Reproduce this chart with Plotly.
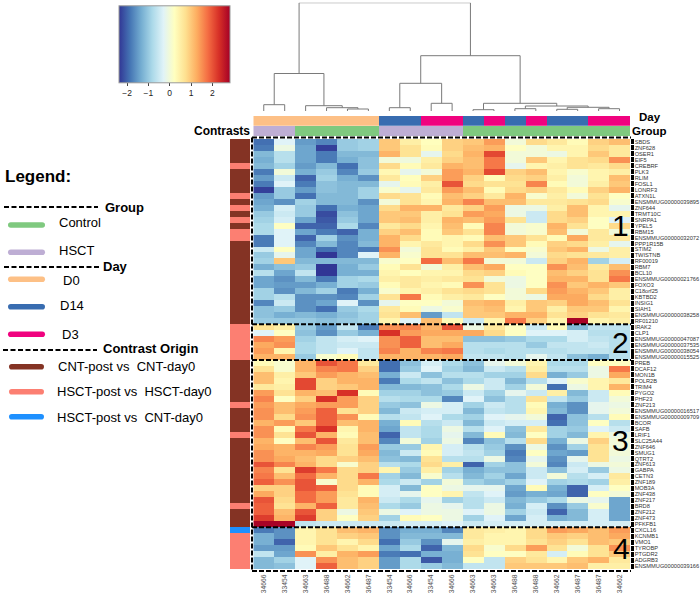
import plotly.graph_objects as go

W, H = 700, 595
FONT = "Liberation Sans"

column_labels = ["34666","33454","34663","36488","34662","36487","33454","34666","33454",
                 "34666","34663","34663","36488","36488","34662","36487","36487","34662"]

cluster1_genes = ["SBDS","ZNF628","OSER1","EIF5","CREBRF","PLK3","RLIM","FOSL1","LONRF3","ATXN1L",
    "ENSMMUG00000039895","ZNF644","TRMT10C","SNRPA1","YPEL5","RBM15","ENSMMUG00000032072","PPP1R15B",
    "STIM2","TWISTNB","RF00019","RBM7","BCL10","ENSMMUG00000021766","FOXO3","C18orf25","KBTBD2",
    "INSIG1","SIAH1","ENSMMUG00000038258","RF01210"]
cluster2_genes = ["IRAK2","CLP1","ENSMMUG00000047087","ENSMMUG00000037535","ENSMMUG00000038054","ENSMMUG00000015525"]
cluster3_genes = ["PREB","DCAF12","MON1B","POLR2B","TRIM4","PYGO2","PHF23","ZNF213","ENSMMUG00000016517",
    "ENSMMUG00000009709","BCOR","SAFB","LRIF1","SLC25A44","ZNF646","SMUG1","QTRT2","ZNF613","GABPA",
    "CETN3","ZNF189","MOB3A","ZNF438","ZNF217","BRD8","ZNF212","ZNF473","PFKFB1"]
cluster4_genes = ["CXCL16","KCNMB1","VMO1","TYROBP","PTGDR2","ADGRB3","ENSMMUG00000039166"]

cluster1_values = [
 [-1.9,-0.3,-1.5,-1.7,-1.0,-0.9,1.0,0.5,0.25,0.9,1.0,1.4,0.0,0.8,0.6,0.3,0.9,1.1],
 [-1.8,-0.1,-1.4,-2.3,-1.0,-0.9,1.0,0.7,0.3,0.9,1.1,1.2,0.2,0.0,0.4,0.4,0.8,0.6],
 [-1.2,-0.7,-1.4,-1.8,-1.2,-1.2,1.2,0.7,-0.2,0.8,1.2,2.1,0.0,0.0,-0.1,0.4,1.0,0.6],
 [-1.3,-0.7,-1.4,-1.8,-1.3,-1.1,0.0,-0.05,0.5,0.9,1.1,1.7,0.0,1.0,0.4,0.7,0.8,1.5],
 [-1.2,-0.9,-1.5,-1.2,-1.9,-1.1,0.8,0.3,0.6,1.2,1.1,1.7,-0.2,0.4,0.5,0.7,0.6,0.8],
 [-1.8,0.0,-1.3,-1.0,-1.7,-1.0,0.35,-0.2,0.0,1.4,1.2,2.1,0.9,1.1,0.4,0.1,0.4,0.5],
 [-1.5,-0.5,-2.0,-0.9,-1.3,-1.6,0.6,0.25,0.9,1.4,0.9,0.3,0.8,0.9,0.5,0.0,0.4,1.1],
 [-1.8,-0.3,-1.8,-1.1,-1.2,-1.2,-0.2,0.3,0.5,2.0,0.8,0.7,0.7,1.6,0.3,0.0,0.5,1.0],
 [-2.3,-1.0,-1.5,-1.1,-1.2,-0.9,0.1,-0.2,0.6,1.4,1.1,0.3,0.8,0.9,0.6,0.3,0.9,1.2],
 [-1.5,-1.0,-1.9,-1.2,-1.2,-0.9,0.8,0.7,0.3,1.1,0.9,0.6,1.2,0.1,0.5,0.0,0.7,0.2],
 [-1.4,-1.6,-0.9,-1.2,-1.2,-1.6,0.0,0.7,0.4,1.2,1.6,1.1,1.1,0.6,0.6,0.7,0.8,0.1],
 [-1.3,-0.4,-1.0,-1.9,-1.3,-1.4,0.8,1.2,1.2,0.6,0.9,1.4,-0.1,-0.1,0.5,1.1,0.4,-0.2],
 [-1.0,-0.5,-1.0,-2.2,-1.1,-1.4,1.0,1.0,0.5,0.7,1.4,1.3,-0.1,-0.5,0.8,1.1,0.4,0.4],
 [-0.9,-0.4,-1.4,-2.1,-1.0,-1.4,1.0,1.1,0.5,1.2,1.1,1.4,0.7,-0.5,0.8,0.9,0.2,-0.3],
 [-0.8,0.2,-2.0,-2.0,-0.8,-1.7,0.6,0.8,0.4,1.1,0.3,1.6,0.0,0.1,1.2,0.7,0.2,0.8],
 [-0.8,-0.3,-1.4,-1.8,-2.0,-1.3,0.9,1.1,0.3,1.0,0.7,1.6,0.0,0.1,1.1,0.0,0.6,0.0],
 [-1.8,-0.3,-2.0,-0.9,-1.6,-1.3,1.2,0.8,0.3,0.4,0.3,1.1,1.0,0.7,0.3,1.3,0.6,0.6],
 [-1.8,-0.3,-1.7,-1.2,-1.7,-1.2,1.2,0.4,0.6,0.4,0.8,1.5,1.0,0.3,0.9,0.8,0.5,-0.2],
 [-0.5,0.2,-1.4,-1.9,-1.7,-1.8,1.5,0.0,0.7,0.3,0.5,1.0,0.2,0.1,1.0,1.2,-0.1,0.5],
 [-1.0,-0.2,-1.4,-2.4,-1.7,-0.3,1.2,0.1,0.7,0.7,1.1,1.1,1.2,0.0,0.8,0.7,0.6,0.5],
 [-0.9,1.0,-1.2,-1.2,-1.2,-1.2,0.1,0.2,1.8,1.1,1.7,0.0,0.0,-0.5,0.9,1.2,-0.9,-0.4],
 [-1.3,-1.1,-1.0,-2.4,-1.3,-1.0,0.3,0.7,0.0,0.5,1.1,1.3,0.2,0.2,1.5,1.1,0.6,1.1],
 [-0.7,-1.4,-0.6,-2.4,-1.3,-1.3,0.4,0.25,0.4,0.4,0.8,0.9,0.3,0.2,1.1,0.9,0.7,1.5],
 [-1.4,-1.6,-1.2,-1.8,-0.9,-0.8,0.5,0.6,0.5,0.6,0.7,0.0,-0.1,0.2,1.2,1.2,0.7,1.7],
 [-1.4,-1.5,-1.5,-1.3,-0.9,-1.0,0.3,0.6,0.4,0.3,1.5,0.7,-0.1,0.2,1.5,1.0,1.2,1.0],
 [-0.9,-1.6,-1.2,-0.9,-1.8,-1.3,0.1,0.4,0.5,0.7,0.8,0.7,0.0,0.8,1.4,1.2,1.0,0.5],
 [-0.9,-0.7,-1.6,-1.6,-1.7,-0.9,0.7,1.7,0.3,0.5,0.6,0.2,0.0,-0.1,1.3,1.3,0.8,0.5],
 [-1.7,-0.5,-1.6,-1.4,-0.3,-1.6,-0.2,0.2,0.2,0.0,1.1,1.2,0.5,1.0,0.9,1.3,1.1,0.7],
 [-1.1,-1.0,-1.6,-1.9,-1.0,-0.8,0.6,0.3,-0.1,0.1,1.0,1.1,0.4,1.0,0.5,1.0,1.0,0.4],
 [-1.1,-1.3,-1.2,-1.3,-1.1,-0.9,0.7,1.1,-1.5,-0.6,1.0,1.0,1.2,1.2,0.7,0.9,0.7,0.6],
 [-1.0,-1.0,-1.0,-1.1,-1.0,-0.9,0.4,-0.3,1.1,0.3,-0.5,0.4,1.7,0.9,0.4,2.8,0.4,0.5],
]
cluster2_values = [
 [0.7,0.5,-1.0,-1.5,-0.6,-1.8,1.5,1.6,1.2,2.0,-0.1,0.6,0.2,-0.5,0.3,-1.2,-0.6,-0.6],
 [-0.3,0.2,-1.1,-1.6,-1.0,-1.3,2.3,1.4,1.3,1.3,1.3,0.8,0.2,-0.3,-0.3,-0.4,-0.7,-0.7],
 [1.6,1.4,-0.9,-0.6,-0.4,-0.3,1.5,1.9,1.1,1.1,-1.1,-1.1,-1.0,-0.8,-0.8,-0.4,-0.6,-0.7],
 [1.3,1.5,-0.8,-0.6,-0.5,-0.5,1.5,1.9,1.1,1.3,-0.7,-0.7,-0.7,-1.0,-0.6,-0.6,-0.5,-0.7],
 [1.4,0.4,-0.8,-0.6,-0.3,-0.6,1.6,1.2,1.6,1.7,-0.7,-0.8,-0.7,-0.7,-0.7,-0.6,-0.6,-0.7],
 [1.2,1.2,-1.0,0.1,0.3,-0.6,1.2,1.2,1.2,1.3,-0.6,-0.6,-0.7,-0.2,-0.6,-1.1,-1.3,-0.7],
]
cluster3_values = [
 [0.3,0.1,1.2,2.0,1.7,0.6,-1.9,-1.1,-0.4,-0.8,-1.1,-0.2,0.0,0.4,-0.8,-0.8,0.2,0.2],
 [0.7,0.1,1.2,1.6,1.7,0.9,-1.9,-1.0,-0.3,-0.9,-1.2,-0.5,-0.7,0.5,-0.7,-0.7,-0.1,1.7],
 [1.1,0.5,1.0,1.4,1.2,1.1,-1.3,-0.5,-1.1,-0.7,-0.7,-0.9,-0.9,0.8,-1.3,-1.0,-0.1,1.3],
 [1.1,0.4,2.1,0.9,1.2,1.2,-1.8,-0.8,-0.6,-1.1,-0.8,-0.5,-1.2,-0.7,-0.3,0.1,0.4,0.6],
 [0.6,0.5,2.1,0.9,1.0,1.2,-1.2,-1.2,-1.1,-0.8,-0.1,-0.5,-0.9,0.0,-1.9,-0.1,0.4,1.2],
 [1.4,0.7,1.2,1.1,2.3,0.3,-0.9,-0.9,-1.1,-1.0,-0.5,-0.9,-0.2,-0.5,0.5,-1.2,-0.5,0.3],
 [1.6,0.2,0.9,2.3,1.4,0.9,-0.7,-0.8,-0.8,-1.7,-0.3,-1.1,-0.7,0.7,-0.6,-1.0,-0.5,0.0],
 [1.4,1.1,1.3,1.4,1.4,0.9,-1.0,-1.1,-0.1,-0.4,-0.9,-0.5,-0.7,0.3,-1.3,-1.6,-0.2,-0.1],
 [1.5,1.1,1.4,1.9,0.7,0.9,-1.2,-0.5,-0.4,-0.4,-1.2,-0.6,-0.7,0.4,-1.2,-1.6,-0.2,0.0],
 [1.5,0.8,1.5,1.9,1.5,0.3,-0.7,-0.6,-0.3,-0.8,-0.9,-0.3,-0.2,0.0,-2.0,-1.1,-0.7,0.3],
 [1.2,1.4,1.0,1.9,1.1,1.2,-1.3,0.3,-0.7,-0.5,-1.2,-0.5,-0.4,-0.4,-1.9,-1.1,0.2,-0.7],
 [1.5,0.3,1.7,2.3,0.4,1.2,-1.4,-0.6,-0.8,-0.1,-0.7,-0.3,-1.1,0.6,-0.9,-1.0,-0.3,-0.5],
 [1.5,0.7,2.0,1.2,0.3,1.1,-2.0,-0.6,-0.8,-0.2,-1.2,0.3,-1.2,0.2,-0.9,-1.2,0.4,-0.1],
 [1.2,0.2,1.1,2.0,0.6,1.1,-1.7,0.0,-0.9,-0.1,-1.7,-1.1,-0.7,0.8,-1.3,-0.1,0.9,0.0],
 [1.3,1.2,1.6,1.4,0.7,1.4,-1.0,-1.0,0.4,-0.4,-0.7,-1.0,-1.6,-0.1,-1.6,-0.9,0.7,0.0],
 [1.5,1.2,1.2,1.3,0.7,1.3,-1.2,-0.5,0.3,-0.4,-0.6,-0.9,-1.8,0.2,-1.4,-1.5,0.7,0.0],
 [1.5,1.3,1.1,0.8,0.9,1.1,-1.1,-1.2,0.7,-0.7,-0.7,-0.1,-1.7,-0.2,-1.6,-0.2,0.7,-0.1],
 [2.0,1.6,1.2,0.8,0.1,0.9,-0.7,-0.8,0.8,0.5,-2.0,-0.9,-1.1,0.0,-1.7,-0.5,-0.1,0.0],
 [1.6,0.7,2.2,1.7,0.8,0.9,0.4,-1.0,0.5,-0.9,-1.3,-1.1,-1.1,-0.5,-1.1,-0.4,-1.0,-0.1],
 [1.7,1.1,1.8,1.2,0.8,1.7,-0.9,-1.2,0.1,-0.7,-1.2,-0.9,-1.4,-0.5,0.0,-0.7,-0.4,0.6],
 [1.9,1.5,2.0,0.1,0.8,1.2,-0.8,-0.5,-0.9,0.0,-0.9,-1.1,-0.9,-0.3,-0.9,-0.8,-0.9,0.5],
 [0.9,0.9,2.0,1.9,0.8,0.3,-0.4,-1.2,0.2,-0.1,-0.2,-0.2,-1.4,0.3,-1.3,-2.0,-0.4,0.2],
 [1.3,0.9,1.8,1.4,0.7,0.3,-0.4,-0.2,0.2,0.4,-0.6,-0.3,-1.5,-1.3,-1.4,-2.0,0.2,0.0],
 [2.0,0.8,1.8,1.4,0.6,1.2,-0.5,-0.8,-0.2,-0.9,-0.7,-0.5,-1.2,-1.0,-0.8,-0.1,-0.2,-1.4],
 [1.9,0.7,1.2,1.9,0.6,1.1,-0.8,-1.0,-0.1,-0.2,-0.7,-0.1,-1.3,-0.4,-1.6,-1.0,0.1,-1.4],
 [1.9,1.1,2.0,0.9,-0.1,1.0,-0.1,-0.3,-0.1,-0.1,-0.3,-0.1,-0.9,-0.5,-2.0,-1.2,-0.4,-1.4],
 [2.2,1.2,2.2,0.9,0.2,0.9,-0.9,0.3,0.2,-0.1,-0.9,-0.3,-1.4,-0.4,-1.3,-1.2,-0.4,-1.4],
 [2.8,2.8,-0.6,-0.5,-0.5,-0.5,-0.5,-0.4,-0.4,-0.3,-0.5,-0.4,-0.4,-0.4,-0.4,-0.4,-0.4,-0.4],
]
cluster4_values = [
 [-1.8,-1.6,0.4,0.7,1.1,1.2,-1.6,-1.3,-1.3,-1.7,0.6,0.5,0.4,0.8,1.4,1.3,1.1,1.4],
 [-1.3,-1.6,0.4,0.7,0.9,1.0,-1.6,-1.2,-1.2,-1.2,0.6,0.4,0.4,0.8,1.0,0.9,1.1,1.3],
 [-1.3,-2.0,0.4,0.7,0.4,0.8,-1.9,-1.0,-1.6,-0.2,0.5,0.4,0.4,0.7,0.9,0.7,1.1,1.0],
 [-1.5,-1.5,0.3,1.0,0.7,0.4,-1.4,-0.8,-2.0,-1.2,0.8,0.1,0.8,1.4,0.7,0.0,0.7,1.5],
 [-0.6,-1.4,1.5,0.5,1.2,1.4,-1.8,-1.9,-1.3,-1.3,0.7,0.2,0.2,0.6,-0.4,0.3,0.7,1.0],
 [-1.2,-0.9,-0.3,1.5,1.1,0.9,-1.5,-0.8,-2.1,-1.3,0.2,-0.6,0.9,0.7,0.4,1.0,1.2,0.6],
 [-1.2,-1.1,-0.3,1.9,1.1,0.9,-1.5,-0.8,-1.0,-1.2,-0.6,-0.6,1.0,1.0,1.0,1.1,0.5,0.5],
]

day_codes = [0,0,0,0,0,0,1,1,2,2,1,2,1,2,1,1,2,2]        # 0 D0, 1 D14, 2 D3
group_codes = [1,1,0,0,0,0,1,1,1,1,0,0,0,0,0,0,0,0]      # 0 Control, 1 HSCT
contrast_codes = [0,0,0,0,1,0,0,0,0,1,0,1,0,1,0,1,1,0,0,0,0,0,0,0,0,0,0,0,0,0,0,
                  1,1,1,1,1,1,
                  0,0,0,0,0,0,0,1,0,0,0,0,1,0,0,0,0,0,0,0,0,0,0,0,1,0,0,0,2,
                  1,1,1,1,1,1,1]
# merges: leaves are "Ln", earlier merges "Mn"; heights
merges = [("L0","L1",6.3),("L4","L5",2.0),("L3","M1",3.3),("L2","M2",5.3),("M0","M3",37.5),
          ("L6","L7",3.3),("L8","L9",7.7),("M5","M6",27.7),("L10","L11",1.3),("L12","L13",2.3),
          ("L14","L15",1.7),("L16","L17",2.3),("M10","M11",3.7),("M9","M12",5.0),("M8","M13",7.7),
          ("M7","M14",55.3),("M4","M15",108.3)]

COLORS_RDYLBU = ["#313695","#4575b4","#74add1","#abd9e9","#e0f3f8","#ffffbf","#fee090","#fdae61","#f46d43","#d73027","#a50026"]
ZMIN, ZMAX = -2.38, 2.83
DAY_COLORS = ["#fdc086","#386cb0","#f0027f"]
GROUP_COLORS = ["#7fc97f","#beaed4"]
CONTRAST_COLORS = ["#843324","#fc7f72","#1e90ff"]

genes = cluster1_genes + cluster2_genes + cluster3_genes + cluster4_genes
matrix = cluster1_values + cluster2_values + cluster3_values + cluster4_values
n_rows, n_cols = len(genes), len(column_labels)

def fx(p): return p / W
def fy(p): return 1 - p / H

HX0, HX1, HY0, HY1 = 253.3, 630.0, 139.0, 569.0

def discrete(colors):
    n = len(colors)
    out = []
    for i, c in enumerate(colors):
        out += [[i / n, c], [(i + 1) / n, c]]
    return out

fig = go.Figure()
fig.add_trace(go.Heatmap(z=matrix, x=list(range(n_cols)), y=list(range(n_rows)), xaxis="x", yaxis="y",
    colorscale=[[i / 10, c] for i, c in enumerate(COLORS_RDYLBU)], zmin=ZMIN, zmax=ZMAX, hoverinfo="skip",
    colorbar=dict(orientation="h", thickness=77, thicknessmode="pixels", len=111, lenmode="pixels",
                  x=fx(119), xanchor="left", y=fy(99), yanchor="bottom", xpad=0, ypad=0,
                  tickvals=[-2, -1, 0, 1, 2], ticks="outside", ticklen=3, tickwidth=1, tickcolor="#444",
                  tickfont=dict(family=FONT, size=8.5, color="#222"), outlinecolor="#999", outlinewidth=1)))
fig.add_trace(go.Heatmap(z=[day_codes], x=list(range(n_cols)), xaxis="x2", yaxis="y2", zmin=-0.5, zmax=2.5,
    colorscale=discrete(DAY_COLORS), showscale=False, hoverinfo="skip"))
fig.add_trace(go.Heatmap(z=[group_codes], x=list(range(n_cols)), xaxis="x3", yaxis="y3", zmin=-0.5, zmax=1.5,
    colorscale=discrete(GROUP_COLORS), showscale=False, hoverinfo="skip"))
fig.add_trace(go.Heatmap(z=[[c] for c in contrast_codes], y=list(range(n_rows)), xaxis="x4", yaxis="y4", zmin=-0.5, zmax=2.5,
    colorscale=discrete(CONTRAST_COLORS), showscale=False, hoverinfo="skip"))

# dendrogram from merges
pos = {f"L{i}": (float(i), 0.0) for i in range(n_cols)}
dx, dy = [], []
for k, (a, b, h) in enumerate(merges):
    xa, ha = pos[a]
    xb, hb = pos[b]
    dx += [xa, xa, xb, xb, None]
    dy += [ha, h, h, hb, None]
    pos[f"M{k}"] = ((xa + xb) / 2, h)
fig.add_trace(go.Scatter(x=dx, y=dy, mode="lines", xaxis="x5", yaxis="y5",
    line=dict(color="#7a7a7a", width=1), hoverinfo="skip", showlegend=False))

hidden = dict(visible=False, fixedrange=True)
xrange_cols = [-0.5, n_cols - 0.5]
dom_x = [fx(HX0), fx(HX1)]
shapes, annos = [], []

# cluster boxes (dashed) in data coordinates of the heatmap
for b in [30.5, 36.5, 64.5]:
    shapes.append(dict(type="line", xref="paper", yref="y", x0=fx(252), x1=fx(631), y0=b, y1=b,
                       line=dict(color="black", width=2, dash="5px,2px")))
for yp in [137.5, 571]:
    shapes.append(dict(type="line", xref="paper", yref="paper", x0=fx(252), x1=fx(631), y0=fy(yp), y1=fy(yp),
                       line=dict(color="black", width=2, dash="5px,2px")))
shapes.append(dict(type="line", xref="paper", yref="paper", x0=fx(252), x1=fx(252), y0=fy(137.5), y1=fy(571),
                   line=dict(color="black", width=2, dash="5px,2px")))

def text(x, y, s, size=13, bold=False, anchor="left", color="black"):
    annos.append(dict(x=fx(x), y=fy(y), xref="paper", yref="paper", text=f"<b>{s}</b>" if bold else s,
                      showarrow=False, xanchor=anchor, yanchor="middle", xshift=0, yshift=0, borderpad=0,
                      font=dict(family=FONT, size=size, color=color)))

def dashed(x0, x1, y):
    shapes.append(dict(type="line", xref="paper", yref="paper", x0=fx(x0), x1=fx(x1), y0=fy(y), y1=fy(y),
                       line=dict(color="black", width=2, dash="5px,2.5px")))

def pill(x0, x1, y, color, hh=2.8):
    yt, yb = fy(y - hh), fy(y + hh)
    ym = fy(y)
    a, b = fx(x0), fx(x1)
    r = fx(hh)
    path = (f"M {a+r},{yt} L {b-r},{yt} Q {b},{yt} {b},{ym} Q {b},{yb} {b-r},{yb} "
            f"L {a+r},{yb} Q {a},{yb} {a},{ym} Q {a},{yt} {a+r},{yt} Z")
    shapes.append(dict(type="path", xref="paper", yref="paper", path=path, fillcolor=color, line=dict(width=0)))

text(4, 176.7, "Legend:", 17, True)
dashed(4, 98, 207); text(103.5, 207, "Group", 13, True)
pill(8, 45, 225, GROUP_COLORS[0]); text(58, 222.7, "Control")
pill(8, 45, 252.3, GROUP_COLORS[1]); text(58, 250.3, "HSCT")
dashed(4, 100, 267); text(102, 266, "Day", 13, True)
pill(8, 45, 279.3, DAY_COLORS[0]); text(61.5, 280, "D0")
pill(8, 45, 306.7, DAY_COLORS[1]); text(59, 306, "D14")
pill(8, 45, 334.3, DAY_COLORS[2]); text(60.5, 334, "D3")
dashed(3, 97, 350); text(102, 348, "Contrast Origin", 13, True)
pill(9, 44, 366.7, CONTRAST_COLORS[0]); text(57, 366.7, "CNT-post vs \u00a0CNT-day0")
pill(9, 44, 391.7, CONTRAST_COLORS[1]); text(56, 391, "HSCT-post vs \u00a0HSCT-day0")
pill(9, 44, 416.7, CONTRAST_COLORS[2]); text(56, 417, "HSCT-post vs \u00a0CNT-day0")

text(250.7, 131, "Contrasts", 12, True, anchor="right")
text(638, 117, "Day", 11.5, True)
text(631, 131, "Group", 11.5, True)
text(620, 225, "1", 30, anchor="center")
text(620.5, 342, "2", 30, anchor="center")
text(620, 440, "3", 30, anchor="center")
text(621, 548, "4", 30, anchor="center")

fig.update_layout(
    width=W, height=H, margin=dict(l=0, r=0, t=0, b=0, autoexpand=False), paper_bgcolor="white", plot_bgcolor="white",
    showlegend=False, shapes=shapes, annotations=annos,
    font=dict(family=FONT),
    xaxis=dict(domain=dom_x, range=xrange_cols, anchor="y", tickmode="array", tickvals=list(range(n_cols)),
               ticktext=column_labels, tickangle=-90, ticks="", showgrid=False, zeroline=False, showline=False,
               tickfont=dict(family=FONT, size=6.8, color="#555"), side="bottom", ticklabelstandoff=3),
    yaxis=dict(domain=[fy(HY1), fy(HY0)], range=[n_rows - 0.5, -0.5], anchor="x", side="right", tickmode="array",
               tickvals=list(range(n_rows)), ticktext=genes, ticks="outside", ticklen=2.5, tickwidth=4.5,
               tickcolor="black", showgrid=False, zeroline=False, showline=False,
               tickfont=dict(family=FONT, size=5.7, color="#333")),
    xaxis2=dict(domain=dom_x, range=xrange_cols, anchor="y2", **hidden),
    yaxis2=dict(domain=[fy(125.7), fy(116)], range=[-0.5, 0.5], anchor="x2", **hidden),
    xaxis3=dict(domain=dom_x, range=xrange_cols, anchor="y3", **hidden),
    yaxis3=dict(domain=[fy(136), fy(126)], range=[-0.5, 0.5], anchor="x3", **hidden),
    xaxis4=dict(domain=[fx(230), fx(250)], range=[-0.5, 0.5], anchor="y4", **hidden),
    yaxis4=dict(domain=[fy(HY1), fy(HY0)], range=[n_rows - 0.5, -0.5], anchor="x4", **hidden),
    xaxis5=dict(domain=dom_x, range=xrange_cols, anchor="y5", **hidden),
    yaxis5=dict(domain=[fy(111), fy(2.7)], range=[0, 108.3], anchor="x5", **hidden),
)
fig.write_html("out.html", config=dict(displayModeBar=False), post_script="document.body.style.margin='0';")
